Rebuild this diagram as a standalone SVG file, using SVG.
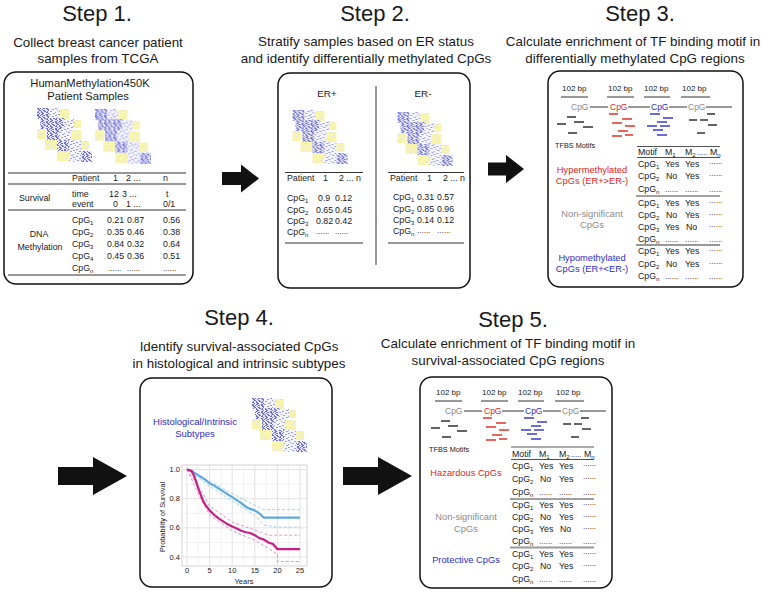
<svg xmlns="http://www.w3.org/2000/svg" xmlns:xlink="http://www.w3.org/1999/xlink" width="762" height="596" viewBox="0 0 762 596">
<style>
text{font-family:"Liberation Sans",Arial,sans-serif;fill:#1a1a1a}
.ti{font-size:22px;text-anchor:middle}
.su{font-size:13.4px;text-anchor:middle}
.s{font-size:8.8px}
.lb{font-size:9.3px}
.sm{font-size:8px}
.c{text-anchor:middle}
.box{fill:#fff;stroke:#111;stroke-width:1.5}
.ln{stroke:#333;stroke-width:1;fill:none}
.r{fill:#e2231a}
.b{fill:#2d2dc8}
.g{fill:#8c8c8c}
.dk{stroke:#222;stroke-width:1.4}
.dr{stroke:#e2231a;stroke-width:1.4}
.db{stroke:#2d2dc8;stroke-width:1.4}
.arrow{fill:#111}
.grid{stroke:#ececec;stroke-width:0.7}
.gridm{stroke:#e2e2e2;stroke-width:1}
.tk{font-size:7.5px;fill:#444}
</style>
<defs>
<pattern id="pb" width="9" height="7" patternUnits="userSpaceOnUse">
<rect width="9" height="7" fill="#eaeaf9"/>
<path d="M0 0h2v1h-2zM3 0h1v1h-1zM6 0h2v1h-2zM1 1h2v1h-2zM5 1h1v1h-1zM2 2h2v1h-2zM6 2h2v1h-2zM1 3h1v1h-1zM4 3h1v1h-1zM7 3h2v1h-2zM0 4h2v1h-2zM4 4h2v1h-2zM2 5h1v1h-1zM5 5h2v1h-2zM0 6h2v1h-2zM4 6h2v1h-2z" fill="#5050cc" fill-opacity="0.8"/>
</pattern>
<pattern id="pl" width="9" height="7" patternUnits="userSpaceOnUse">
<rect width="9" height="7" fill="#f5f5fc"/>
<path d="M0 0h2v1h-2zM6 1h2v1h-2zM2 2h1v1h-1zM4 3h2v1h-2zM0 4h1v1h-1zM7 5h2v1h-2zM3 6h2v1h-2z" fill="#9a9ae2"/>
</pattern>
<pattern id="py" width="9" height="7" patternUnits="userSpaceOnUse">
<rect width="9" height="7" fill="#f8f5ac"/>
<path d="M1 1h2v1h-2zM6 3h1v1h-1zM3 5h2v1h-2z" fill="#dedef0"/>
</pattern>
<symbol id="hm" viewBox="0 0 56 56">
<rect x="0" y="0" width="12" height="11" fill="url(#pb)"/>
<rect x="12" y="0" width="11" height="11" fill="url(#pl)"/>
<rect x="23" y="1" width="9" height="10" fill="url(#py)"/>
<rect x="3" y="10" width="12" height="11" fill="url(#pb)"/>
<rect x="15" y="10" width="12" height="11" fill="url(#pb)"/>
<rect x="27" y="11" width="10" height="10" fill="url(#pl)"/>
<rect x="37" y="12" width="7" height="8" fill="url(#py)"/>
<rect x="0" y="21" width="9" height="10" fill="url(#py)"/>
<rect x="10" y="21" width="12" height="11" fill="url(#pb)"/>
<rect x="22" y="21" width="12" height="11" fill="url(#pl)"/>
<rect x="34" y="22" width="10" height="10" fill="url(#py)"/>
<rect x="8" y="32" width="12" height="10" fill="url(#py)"/>
<rect x="20" y="32" width="12" height="11" fill="url(#pb)"/>
<rect x="32" y="32" width="12" height="11" fill="url(#pl)"/>
<rect x="44" y="33" width="8" height="9" fill="url(#py)"/>
<rect x="20" y="43" width="12" height="10" fill="url(#py)"/>
<rect x="32" y="43" width="12" height="11" fill="url(#pl)"/>
<rect x="44" y="43" width="11" height="11" fill="url(#pb)"/>
</symbol>
</defs>

<!-- titles -->
<text class="ti" x="97" y="21">Step 1.</text>
<text class="ti" x="375" y="21">Step 2.</text>
<text class="ti" x="640" y="21">Step 3.</text>
<text class="ti" x="239" y="325">Step 4.</text>
<text class="ti" x="513" y="327">Step 5.</text>
<text class="su" x="98" y="47">Collect breast cancer patient</text>
<text class="su" x="98" y="63">samples from TCGA</text>
<text class="su" x="366" y="46">Stratify samples based on ER status</text>
<text class="su" x="366" y="63">and identify differentially methylated CpGs</text>
<text class="su" x="633" y="46" font-size="13.1">Calculate enrichment of TF binding motif in</text>
<text class="su" x="635" y="63">differentially methylated CpG regions</text>
<text class="su" x="239" y="351">Identify survival-associated CpGs</text>
<text class="su" x="239" y="368">in histological and intrinsic subtypes</text>
<text class="su" x="508" y="348">Calculate enrichment of TF binding motif in</text>
<text class="su" x="508" y="365">survival-associated CpG regions</text>

<!-- connectors -->
<g id="connectors">
<path class="arrow" d="M222 172H241V164.5L259 178.5L241 192.5V185H222Z"/>
<path class="arrow" d="M488 162.5H506V155L524 169L506 183V175.5H488Z"/>
<path class="arrow" d="M58 467H93V457L127 476L93 495V485H58Z"/>
<path class="arrow" d="M343 467H378V457L412 476L378 495V485H343Z"/>
</g>

<!-- Step 1 -->
<g id="step1">
<rect class="box" x="4" y="72" width="189" height="212" rx="12"/>
<text class="c" x="90" y="87" font-size="11.2">HumanMethylation450K</text>
<text class="c" x="88" y="100" font-size="11.2">Patient Samples</text>
<use href="#hm" x="37" y="108" width="56" height="56"/>
<use href="#hm" x="95" y="109" width="57" height="57"/>
<line class="ln" x1="8" y1="173" x2="186" y2="173"/>
<line class="ln" x1="8" y1="184" x2="186" y2="184"/>
<line class="ln" x1="8" y1="210" x2="186" y2="210"/>
<line class="ln" x1="8" y1="275" x2="186" y2="275"/>
<g class="s">
<text x="72" y="181">Patient</text><text x="113" y="181">1</text><text x="126" y="181">2 ...</text><text x="163" y="181">n</text>
<text x="19" y="201">Survival</text>
<text x="72" y="197">time</text><text x="109" y="197">12</text><text x="122" y="197">3 ...</text><text x="166" y="197">t</text>
<text x="72" y="207">event</text><text x="113" y="207">0</text><text x="126" y="207">1 ...</text><text x="163" y="207">0/1</text>
<text class="c" x="39" y="237">DNA</text>
<text class="c" x="40" y="249.5">Methylation</text>
<text x="72" y="223">CpG<tspan dy="2" font-size="6">1</tspan></text><text x="107" y="223">0.21</text><text x="127" y="223">0.87</text><text x="163" y="223">0.56</text>
<text x="72" y="235">CpG<tspan dy="2" font-size="6">2</tspan></text><text x="107" y="235">0.35</text><text x="127" y="235">0.46</text><text x="163" y="235">0.38</text>
<text x="72" y="247">CpG<tspan dy="2" font-size="6">3</tspan></text><text x="107" y="247">0.84</text><text x="127" y="247">0.32</text><text x="163" y="247">0.64</text>
<text x="72" y="259">CpG<tspan dy="2" font-size="6">4</tspan></text><text x="107" y="259">0.45</text><text x="127" y="259">0.36</text><text x="163" y="259">0.51</text>
<text x="72" y="271">CpG<tspan dy="2" font-size="6">n</tspan></text>
</g>
<g class="sm"><text x="108" y="271">......</text><text x="127" y="271">......</text><text x="163" y="271">......</text></g>
</g>

<!-- Step 2 -->
<g id="step2">
<rect class="box" x="278" y="73" width="192" height="215" rx="12"/>
<line class="ln" x1="376" y1="86" x2="376" y2="265"/>
<text class="c" x="327" y="97" font-size="9.8">ER+</text>
<text class="c" x="423" y="97" font-size="9.8">ER-</text>
<use href="#hm" x="292" y="110" width="57" height="56"/>
<use href="#hm" x="397" y="112" width="57" height="56"/>
<line class="ln" x1="285" y1="172.5" x2="363" y2="172.5"/>
<line class="ln" x1="285" y1="243" x2="363" y2="243"/>
<line class="ln" x1="388" y1="172.5" x2="464" y2="172.5"/>
<line class="ln" x1="388" y1="243" x2="464" y2="243"/>
<g class="s">
<text x="287" y="181">Patient</text><text x="323" y="181">1</text><text x="339" y="181">2 ... n</text>
<text x="287" y="201">CpG<tspan dy="2" font-size="6">1</tspan></text><text x="318" y="201">0.9</text><text x="335" y="201">0.12</text>
<text x="287" y="212.5">CpG<tspan dy="2" font-size="6">2</tspan></text><text x="316" y="212.5">0.65</text><text x="335" y="212.5">0.45</text>
<text x="287" y="223.5">CpG<tspan dy="2" font-size="6">3</tspan></text><text x="316" y="223.5">0.82</text><text x="335" y="223.5">0.42</text>
<text x="287" y="235">CpG<tspan dy="2" font-size="6">n</tspan></text>
<text x="390" y="181">Patient</text><text x="427" y="181">1</text><text x="443" y="181">2 ... n</text>
<text x="393" y="200">CpG<tspan dy="2" font-size="6">1</tspan></text><text x="417" y="200">0.31</text><text x="437" y="200">0.57</text>
<text x="393" y="211.5">CpG<tspan dy="2" font-size="6">2</tspan></text><text x="417" y="211.5">0.85</text><text x="437" y="211.5">0.96</text>
<text x="393" y="222.5">CpG<tspan dy="2" font-size="6">3</tspan></text><text x="417" y="222.5">0.14</text><text x="437" y="222.5">0.12</text>
<text x="393" y="234">CpG<tspan dy="2" font-size="6">n</tspan></text>
</g>
<g class="sm"><text x="316" y="234">......</text><text x="335" y="234">......</text><text x="417" y="233">......</text><text x="437" y="233">......</text></g>
</g>

<!-- Step 3 -->
<g id="step3">
<rect class="box" x="548" y="71" width="195" height="216" rx="12"/>
<g class="sm">
<text x="562" y="91">102 bp</text><text x="608" y="91">102 bp</text><text x="644" y="91">102 bp</text><text x="682" y="91">102 bp</text>
</g>
<g class="ln">
<line x1="561" y1="97" x2="588" y2="97"/><line x1="607" y1="97" x2="634" y2="97"/><line x1="644" y1="97" x2="670" y2="97"/><line x1="681" y1="97" x2="710" y2="97"/>
<line x1="590" y1="107" x2="608" y2="107"/><line x1="628" y1="107" x2="650" y2="107"/><line x1="669" y1="107" x2="687" y2="107"/><line x1="706" y1="107" x2="732" y2="107"/>
</g>
<text class="g" x="571" y="110" font-size="8.5">CpG</text>
<text class="r" x="610" y="110" font-size="8.5">CpG</text>
<text class="b" x="651" y="110" font-size="8.5">CpG</text>
<text class="g" x="688" y="110" font-size="8.5">CpG</text>
<g class="dk"><line x1="567" y1="117" x2="576" y2="117"/><line x1="557" y1="124" x2="566" y2="124"/><line x1="574" y1="122" x2="584" y2="122"/><line x1="583" y1="127" x2="593" y2="127"/><line x1="568" y1="133" x2="577" y2="133"/>
<line x1="707" y1="114" x2="715" y2="114"/><line x1="689" y1="120" x2="697" y2="120"/><line x1="700" y1="120" x2="708" y2="120"/><line x1="708" y1="125" x2="717" y2="125"/><line x1="697" y1="133" x2="705" y2="133"/></g>
<g class="dr"><line x1="609" y1="114" x2="618" y2="114"/><line x1="622" y1="119" x2="632" y2="119"/><line x1="612" y1="123" x2="622" y2="123"/><line x1="625" y1="126" x2="635" y2="126"/><line x1="618" y1="131" x2="628" y2="131"/><line x1="612" y1="136" x2="622" y2="136"/><line x1="625" y1="135" x2="633" y2="135"/></g>
<g class="db"><line x1="650" y1="114" x2="660" y2="114"/><line x1="663" y1="118" x2="673" y2="118"/><line x1="657" y1="122" x2="667" y2="122"/><line x1="647" y1="126" x2="657" y2="126"/><line x1="660" y1="126" x2="670" y2="126"/><line x1="653" y1="130" x2="663" y2="130"/><line x1="657" y1="135" x2="667" y2="135"/></g>
<text x="555" y="148" font-size="7.3">TFBS Motifs</text>
<line x1="637" y1="146.5" x2="720" y2="146.5" stroke="#555" stroke-width="1.2"/>
<line x1="637" y1="157.5" x2="720" y2="157.5" stroke="#222" stroke-width="0.8"/>
<line x1="636" y1="196" x2="720" y2="196" stroke="#444" stroke-width="1.1"/>
<line x1="636" y1="245" x2="720" y2="245" stroke="#999" stroke-width="2"/>
<g class="lb">
<text class="c r" x="592" y="172.5">Hypermethylated</text>
<text class="c r" x="592" y="184">CpGs (ER+&gt;ER-)</text>
<text class="c g" x="592" y="216.5">Non-significant</text>
<text class="c g" x="592" y="227.5">CpGs</text>
<text class="c b" x="592" y="260.5">Hypomethylated</text>
<text class="c b" x="592" y="271.5">CpGs (ER+&lt;ER-)</text>
</g>
<g class="s">
<text x="638" y="155">Motif</text><text x="665" y="155">M<tspan dy="2" font-size="6">1</tspan></text><text x="685" y="155">M<tspan dy="2" font-size="6">2</tspan></text><text x="697" y="155" font-size="7.5">.....</text><text x="710" y="155">M<tspan dy="2" font-size="6">n</tspan></text>
<g class="r"><text x="638" y="167">CpG<tspan dy="2" font-size="6">1</tspan></text><text x="665" y="167">Yes</text><text x="685" y="167">Yes</text>
<text x="638" y="179">CpG<tspan dy="2" font-size="6">2</tspan></text><text x="666" y="179">No</text><text x="685" y="179">Yes</text>
<text x="638" y="191.5">CpG<tspan dy="2" font-size="6">n</tspan></text>
<text x="709" y="164" font-size="8">......</text><text x="709" y="176" font-size="8">......</text><text x="665" y="191.5" font-size="8">......</text><text x="685" y="191.5" font-size="8">......</text><text x="709" y="191.5" font-size="8">......</text></g>
<g class="g"><text x="638" y="206">CpG<tspan dy="2" font-size="6">1</tspan></text><text x="665" y="206">Yes</text><text x="685" y="206">Yes</text>
<text x="638" y="218">CpG<tspan dy="2" font-size="6">2</tspan></text><text x="666" y="218">No</text><text x="685" y="218">Yes</text>
<text x="638" y="230">CpG<tspan dy="2" font-size="6">3</tspan></text><text x="665" y="230">Yes</text><text x="686" y="230">No</text>
<text x="638" y="241.5">CpG<tspan dy="2" font-size="6">n</tspan></text>
<text x="709" y="203" font-size="8">......</text><text x="709" y="215" font-size="8">......</text><text x="709" y="227" font-size="8">......</text><text x="665" y="241.5" font-size="8">......</text><text x="685" y="241.5" font-size="8">......</text><text x="709" y="241.5" font-size="8">......</text></g>
<g class="b"><text x="638" y="254">CpG<tspan dy="2" font-size="6">1</tspan></text><text x="665" y="254">Yes</text><text x="685" y="254">Yes</text>
<text x="638" y="266.5">CpG<tspan dy="2" font-size="6">2</tspan></text><text x="666" y="266.5">No</text><text x="685" y="266.5">Yes</text>
<text x="638" y="279">CpG<tspan dy="2" font-size="6">n</tspan></text>
<text x="709" y="251" font-size="8">......</text><text x="709" y="263.5" font-size="8">......</text><text x="665" y="279" font-size="8">......</text><text x="685" y="279" font-size="8">......</text><text x="709" y="279" font-size="8">......</text></g>
</g>
</g>

<!-- Step 4 -->
<g id="step4">
<rect class="box" x="140" y="378" width="192" height="209" rx="12"/>
<text class="c b" x="195" y="425" font-size="9.5">Histological/Intrinsic</text>
<text class="c b" x="195" y="437" font-size="9.5">Subtypes</text>
<use href="#hm" x="250" y="398" width="60" height="56"/>
<rect x="182" y="465" width="125" height="101" fill="#fff" stroke="#c8c8c8" stroke-width="0.8"/>
<g class="grid">
<line x1="198.3" y1="465" x2="198.3" y2="566"/><line x1="220.9" y1="465" x2="220.9" y2="566"/><line x1="243.5" y1="465" x2="243.5" y2="566"/><line x1="266.1" y1="465" x2="266.1" y2="566"/><line x1="288.7" y1="465" x2="288.7" y2="566"/>
<line x1="182" y1="484.1" x2="307" y2="484.1"/><line x1="182" y1="513.3" x2="307" y2="513.3"/><line x1="182" y1="542.5" x2="307" y2="542.5"/>
</g>
<g class="gridm">
<line x1="187" y1="465" x2="187" y2="566"/><line x1="209.6" y1="465" x2="209.6" y2="566"/><line x1="232.2" y1="465" x2="232.2" y2="566"/><line x1="254.8" y1="465" x2="254.8" y2="566"/><line x1="277.4" y1="465" x2="277.4" y2="566"/><line x1="300" y1="465" x2="300" y2="566"/>
<line x1="182" y1="469.5" x2="307" y2="469.5"/><line x1="182" y1="498.7" x2="307" y2="498.7"/><line x1="182" y1="527.9" x2="307" y2="527.9"/><line x1="182" y1="557.1" x2="307" y2="557.1"/>
</g>
<g fill="none" stroke-width="0.8" stroke-dasharray="3 2">
<polyline stroke="#8cc6ee" points="187,469.5 209.6,481.2 232.2,493.6 254.8,505.3 263.8,509.6 300,509.6"/>
<polyline stroke="#8cc6ee" points="187,469.5 209.6,486.3 232.2,500.9 254.8,515.5 263.8,525 277.4,527.2 300,527.2"/>
<polyline stroke="#e07ab8" points="187,469.5 200.6,489.9 209.6,506 232.2,522.1 254.8,530.1 268.4,535.2 300,535.2"/>
<polyline stroke="#e07ab8" points="187,469.5 200.6,498.7 209.6,514.8 232.2,530.8 254.8,540.3 268.4,548.4 277.4,554.2 277.4,561.5 300,561.5"/>
</g>
<polyline fill="none" stroke="#5aa9e0" stroke-width="2.2" points="187,469.5 191.5,471 196,473.9 200.6,476.8 205.1,479.7 209.6,483.4 214.1,485.6 218.6,488.5 223.2,491.4 227.7,494.3 232.2,497.2 236.7,500.2 241.2,503.1 245.8,506.7 250.3,508.9 254.8,510.4 259.3,513.3 263.8,517.7 300,517.7"/>
<polyline fill="none" stroke="#c81e86" stroke-width="2.2" points="187,469.5 191.5,471 193.8,475.3 196,481.2 198.3,488.5 200.6,494.3 202.8,500.2 205.1,504.5 209.6,510.4 214.1,514.8 218.6,518.4 223.2,521.4 227.7,524.3 232.2,526.4 236.7,528.6 241.2,530.8 245.8,532.3 250.3,533 254.8,535.2 259.3,538.1 263.8,539.6 268.4,542.5 272.9,544 277.4,549.1 300,549.1"/>
<g class="tk">
<text x="180" y="472" text-anchor="end">1.0</text><text x="180" y="501.2" text-anchor="end">0.8</text><text x="180" y="530.4" text-anchor="end">0.6</text><text x="180" y="559.6" text-anchor="end">0.4</text>
<text class="c" x="187" y="573">0</text><text class="c" x="209.6" y="573">5</text><text class="c" x="232.2" y="573">10</text><text class="c" x="254.8" y="573">15</text><text class="c" x="277.4" y="573">20</text><text class="c" x="300" y="573">25</text>
<text class="c" x="244" y="584">Years</text>
<text class="c" x="0" y="0" font-size="7.3" transform="translate(164.5 517) rotate(-90)">Probability of Survival</text>
</g>
</g>

<!-- Step 5 -->
<g id="step5">
<rect class="box" x="420" y="377" width="192" height="211" rx="12"/>
<g transform="translate(-126 304)">
<g class="sm">
<text x="562" y="91">102 bp</text><text x="608" y="91">102 bp</text><text x="644" y="91">102 bp</text><text x="682" y="91">102 bp</text>
</g>
<g class="ln">
<line x1="561" y1="97" x2="588" y2="97"/><line x1="607" y1="97" x2="634" y2="97"/><line x1="644" y1="97" x2="670" y2="97"/><line x1="681" y1="97" x2="710" y2="97"/>
<line x1="590" y1="107" x2="608" y2="107"/><line x1="628" y1="107" x2="650" y2="107"/><line x1="669" y1="107" x2="687" y2="107"/><line x1="706" y1="107" x2="732" y2="107"/>
</g>
<text class="g" x="571" y="110" font-size="8.5">CpG</text>
<text class="r" x="610" y="110" font-size="8.5">CpG</text>
<text class="b" x="651" y="110" font-size="8.5">CpG</text>
<text class="g" x="688" y="110" font-size="8.5">CpG</text>
<g class="dk"><line x1="567" y1="117" x2="576" y2="117"/><line x1="557" y1="124" x2="566" y2="124"/><line x1="574" y1="122" x2="584" y2="122"/><line x1="583" y1="127" x2="593" y2="127"/><line x1="568" y1="133" x2="577" y2="133"/>
<line x1="707" y1="114" x2="715" y2="114"/><line x1="689" y1="120" x2="697" y2="120"/><line x1="700" y1="120" x2="708" y2="120"/><line x1="708" y1="125" x2="717" y2="125"/><line x1="697" y1="133" x2="705" y2="133"/></g>
<g class="dr"><line x1="609" y1="114" x2="618" y2="114"/><line x1="622" y1="119" x2="632" y2="119"/><line x1="612" y1="123" x2="622" y2="123"/><line x1="625" y1="126" x2="635" y2="126"/><line x1="618" y1="131" x2="628" y2="131"/><line x1="612" y1="136" x2="622" y2="136"/><line x1="625" y1="135" x2="633" y2="135"/></g>
<g class="db"><line x1="650" y1="114" x2="660" y2="114"/><line x1="663" y1="118" x2="673" y2="118"/><line x1="657" y1="122" x2="667" y2="122"/><line x1="647" y1="126" x2="657" y2="126"/><line x1="660" y1="126" x2="670" y2="126"/><line x1="653" y1="130" x2="663" y2="130"/><line x1="657" y1="135" x2="667" y2="135"/></g>
<text x="555" y="148" font-size="7.3">TFBS Motifs</text>
</g>
<g transform="translate(-126 302)">
<line x1="637" y1="145" x2="720" y2="145" stroke="#555" stroke-width="1.2"/>
<line x1="637" y1="157.5" x2="720" y2="157.5" stroke="#222" stroke-width="0.8"/>
<line x1="636" y1="197" x2="720" y2="197" stroke="#444" stroke-width="1.1"/>
<line x1="636" y1="245.5" x2="720" y2="245.5" stroke="#999" stroke-width="2"/>
<g class="lb">
<text class="c r" x="592" y="174">Hazardous CpGs</text>
<text class="c g" x="592" y="218">Non-significant</text>
<text class="c g" x="592" y="230">CpGs</text>
<text class="c b" x="592" y="261">Protective CpGs</text>
</g>
<g class="s">
<text x="638" y="155">Motif</text><text x="665" y="155">M<tspan dy="2" font-size="6">1</tspan></text><text x="685" y="155">M<tspan dy="2" font-size="6">2</tspan></text><text x="697" y="155" font-size="7.5">.....</text><text x="710" y="155">M<tspan dy="2" font-size="6">n</tspan></text>
<g class="r"><text x="638" y="167">CpG<tspan dy="2" font-size="6">1</tspan></text><text x="665" y="167">Yes</text><text x="685" y="167">Yes</text>
<text x="638" y="180">CpG<tspan dy="2" font-size="6">2</tspan></text><text x="666" y="180">No</text><text x="685" y="180">Yes</text>
<text x="638" y="192.5">CpG<tspan dy="2" font-size="6">n</tspan></text>
<text x="709" y="164" font-size="8">......</text><text x="709" y="177" font-size="8">......</text><text x="665" y="192.5" font-size="8">......</text><text x="685" y="192.5" font-size="8">......</text><text x="709" y="192.5" font-size="8">......</text></g>
<g class="g"><text x="638" y="205.5">CpG<tspan dy="2" font-size="6">1</tspan></text><text x="665" y="205.5">Yes</text><text x="685" y="205.5">Yes</text>
<text x="638" y="217.5">CpG<tspan dy="2" font-size="6">2</tspan></text><text x="666" y="217.5">No</text><text x="685" y="217.5">Yes</text>
<text x="638" y="229.5">CpG<tspan dy="2" font-size="6">3</tspan></text><text x="665" y="229.5">Yes</text><text x="686" y="229.5">No</text>
<text x="638" y="241.5">CpG<tspan dy="2" font-size="6">n</tspan></text>
<text x="709" y="202.5" font-size="8">......</text><text x="709" y="214.5" font-size="8">......</text><text x="709" y="226.5" font-size="8">......</text><text x="665" y="241.5" font-size="8">......</text><text x="685" y="241.5" font-size="8">......</text><text x="709" y="241.5" font-size="8">......</text></g>
<g class="b"><text x="638" y="254.5">CpG<tspan dy="2" font-size="6">1</tspan></text><text x="665" y="254.5">Yes</text><text x="685" y="254.5">Yes</text>
<text x="638" y="267">CpG<tspan dy="2" font-size="6">2</tspan></text><text x="666" y="267">No</text><text x="685" y="267">Yes</text>
<text x="638" y="280">CpG<tspan dy="2" font-size="6">n</tspan></text>
<text x="709" y="251.5" font-size="8">......</text><text x="709" y="264" font-size="8">......</text><text x="665" y="280" font-size="8">......</text><text x="685" y="280" font-size="8">......</text><text x="709" y="280" font-size="8">......</text></g>
</g>
</g>
</g>
</svg>
